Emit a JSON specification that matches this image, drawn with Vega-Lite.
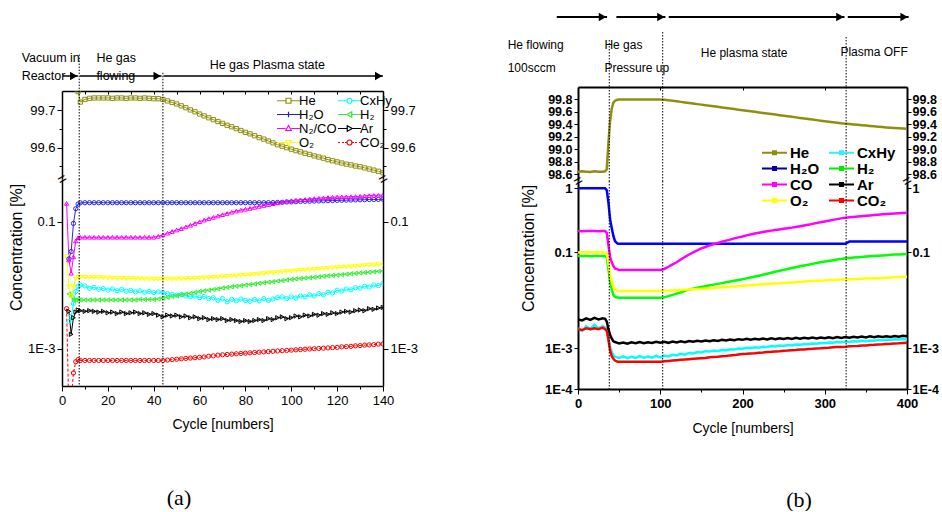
{
"$schema": "https://vega.github.io/schema/vega-lite/v6.json",
"padding": {"left": 8, "top": 0, "right": 0, "bottom": 0},
"config": {
  "view": {"stroke": null},
  "font": "Liberation Sans",
  "axis": {"domainColor": "#000", "tickColor": "#000", "labelColor": "#000", "titleColor": "#000", "grid": false, "labelFont": "Liberation Sans", "titleFont": "Liberation Sans", "titleFontWeight": "normal", "labelFontSize": 13, "domainWidth": 1.5, "tickWidth": 1, "labelOverlap": false},
  "legend": {"padding": 0}
},
"datasets": {
  "a": [
    {"c":2,"N2CO":0.194,"O2":0.028,"CO2":0.0043},
    {"c":3,"H2O":0.026,"N2CO":0.025,"O2":0.0095,"CxHy":0.0027,"H2":0.0073,"Ar":0.0039,"CO2":0.0001},
    {"c":4,"H2O":0.034,"N2CO":0.0155,"O2":0.0066,"CxHy":0.0032,"H2":0.0066,"Ar":0.0017,"CO2":0.00015},
    {"c":5,"H2O":0.094,"N2CO":0.028,"O2":0.0095,"CxHy":0.0052,"H2":0.0059,"Ar":0.0031,"CO2":0.00042},
    {"c":6,"H2O":0.16,"N2CO":0.05,"O2":0.0126,"CxHy":0.008,"H2":0.0059,"Ar":0.0038,"CO2":0.00063},
    {"c":7,"He":99.75,"H2O":0.19,"N2CO":0.056,"O2":0.0134,"CxHy":0.0095,"H2":0.006,"Ar":0.0041,"CO2":0.00068},
    {"c":8,"He":99.722,"H2O":0.198,"N2CO":0.057,"O2":0.0134,"CxHy":0.0101,"H2":0.0059,"Ar":0.004,"CO2":0.00066},
    {"c":10,"He":99.729,"H2O":0.199,"N2CO":0.057,"O2":0.0134,"CxHy":0.0098,"H2":0.0059,"Ar":0.0039,"CO2":0.00066},
    {"c":12,"He":99.732,"H2O":0.199,"N2CO":0.057,"O2":0.0133,"CxHy":0.009,"H2":0.0059,"Ar":0.004,"CO2":0.00066},
    {"c":14,"He":99.733,"H2O":0.199,"N2CO":0.057,"O2":0.0133,"CxHy":0.0093,"H2":0.0059,"Ar":0.0039,"CO2":0.00066},
    {"c":16,"He":99.733,"H2O":0.199,"N2CO":0.057,"O2":0.0132,"CxHy":0.0087,"H2":0.0059,"Ar":0.0038,"CO2":0.00066},
    {"c":18,"He":99.733,"H2O":0.199,"N2CO":0.057,"O2":0.0132,"CxHy":0.0089,"H2":0.0059,"Ar":0.0039,"CO2":0.00066},
    {"c":20,"He":99.733,"H2O":0.199,"N2CO":0.057,"O2":0.0131,"CxHy":0.0084,"H2":0.0059,"Ar":0.0037,"CO2":0.00066},
    {"c":22,"He":99.732,"H2O":0.199,"N2CO":0.057,"O2":0.013,"CxHy":0.0088,"H2":0.0059,"Ar":0.0038,"CO2":0.00066},
    {"c":24,"He":99.733,"H2O":0.199,"N2CO":0.057,"O2":0.013,"CxHy":0.0082,"H2":0.0059,"Ar":0.0036,"CO2":0.00066},
    {"c":26,"He":99.733,"H2O":0.199,"N2CO":0.057,"O2":0.0129,"CxHy":0.0086,"H2":0.0059,"Ar":0.0038,"CO2":0.00066},
    {"c":28,"He":99.732,"H2O":0.199,"N2CO":0.057,"O2":0.0128,"CxHy":0.0081,"H2":0.0059,"Ar":0.0036,"CO2":0.00066},
    {"c":30,"He":99.733,"H2O":0.199,"N2CO":0.057,"O2":0.0128,"CxHy":0.0083,"H2":0.0059,"Ar":0.0037,"CO2":0.00066},
    {"c":32,"He":99.733,"H2O":0.199,"N2CO":0.057,"O2":0.0127,"CxHy":0.0079,"H2":0.0059,"Ar":0.0038,"CO2":0.00066},
    {"c":34,"He":99.732,"H2O":0.199,"N2CO":0.057,"O2":0.0127,"CxHy":0.0082,"H2":0.006,"Ar":0.0036,"CO2":0.00066},
    {"c":36,"He":99.733,"H2O":0.199,"N2CO":0.057,"O2":0.0126,"CxHy":0.0078,"H2":0.006,"Ar":0.0037,"CO2":0.00066},
    {"c":38,"He":99.732,"H2O":0.199,"N2CO":0.057,"O2":0.0126,"CxHy":0.008,"H2":0.006,"Ar":0.0035,"CO2":0.00066},
    {"c":40,"He":99.731,"H2O":0.199,"N2CO":0.057,"O2":0.0125,"CxHy":0.0077,"H2":0.006,"Ar":0.0036,"CO2":0.00066},
    {"c":42,"He":99.731,"H2O":0.199,"N2CO":0.059,"O2":0.0125,"CxHy":0.0079,"H2":0.0061,"Ar":0.0034,"CO2":0.00066},
    {"c":44,"He":99.729,"H2O":0.199,"N2CO":0.062,"O2":0.0125,"CxHy":0.0077,"H2":0.0063,"Ar":0.0032,"CO2":0.00066},
    {"c":46,"He":99.725,"H2O":0.199,"N2CO":0.066,"O2":0.0125,"CxHy":0.0074,"H2":0.0065,"Ar":0.0034,"CO2":0.00067},
    {"c":48,"He":99.721,"H2O":0.199,"N2CO":0.07,"O2":0.0126,"CxHy":0.0072,"H2":0.0067,"Ar":0.0033,"CO2":0.00068},
    {"c":50,"He":99.717,"H2O":0.199,"N2CO":0.074,"O2":0.0126,"CxHy":0.007,"H2":0.0069,"Ar":0.0034,"CO2":0.00069},
    {"c":52,"He":99.712,"H2O":0.199,"N2CO":0.078,"O2":0.0127,"CxHy":0.0072,"H2":0.0071,"Ar":0.0032,"CO2":0.0007},
    {"c":54,"He":99.707,"H2O":0.199,"N2CO":0.083,"O2":0.0127,"CxHy":0.0068,"H2":0.0073,"Ar":0.0033,"CO2":0.00071},
    {"c":56,"He":99.701,"H2O":0.199,"N2CO":0.088,"O2":0.0128,"CxHy":0.0066,"H2":0.0075,"Ar":0.0031,"CO2":0.00072},
    {"c":58,"He":99.696,"H2O":0.199,"N2CO":0.094,"O2":0.0129,"CxHy":0.0068,"H2":0.0078,"Ar":0.0032,"CO2":0.00073},
    {"c":60,"He":99.69,"H2O":0.199,"N2CO":0.1,"O2":0.013,"CxHy":0.0064,"H2":0.008,"Ar":0.003,"CO2":0.00074},
    {"c":62,"He":99.685,"H2O":0.199,"N2CO":0.106,"O2":0.0131,"CxHy":0.0067,"H2":0.0082,"Ar":0.0031,"CO2":0.00075},
    {"c":64,"He":99.68,"H2O":0.199,"N2CO":0.112,"O2":0.0132,"CxHy":0.0062,"H2":0.0084,"Ar":0.0029,"CO2":0.00077},
    {"c":66,"He":99.675,"H2O":0.199,"N2CO":0.117,"O2":0.0134,"CxHy":0.0064,"H2":0.0086,"Ar":0.003,"CO2":0.00078},
    {"c":68,"He":99.67,"H2O":0.199,"N2CO":0.123,"O2":0.0135,"CxHy":0.0058,"H2":0.0088,"Ar":0.0029,"CO2":0.0008},
    {"c":70,"He":99.665,"H2O":0.199,"N2CO":0.129,"O2":0.0137,"CxHy":0.0062,"H2":0.0091,"Ar":0.003,"CO2":0.00081},
    {"c":72,"He":99.66,"H2O":0.199,"N2CO":0.135,"O2":0.0138,"CxHy":0.0055,"H2":0.0093,"Ar":0.0028,"CO2":0.00082},
    {"c":74,"He":99.656,"H2O":0.199,"N2CO":0.141,"O2":0.014,"CxHy":0.006,"H2":0.0095,"Ar":0.0029,"CO2":0.00083},
    {"c":76,"He":99.651,"H2O":0.199,"N2CO":0.147,"O2":0.0141,"CxHy":0.0057,"H2":0.0097,"Ar":0.0028,"CO2":0.00084},
    {"c":78,"He":99.646,"H2O":0.199,"N2CO":0.152,"O2":0.0143,"CxHy":0.0061,"H2":0.0099,"Ar":0.0027,"CO2":0.00085},
    {"c":80,"He":99.641,"H2O":0.199,"N2CO":0.157,"O2":0.0145,"CxHy":0.0058,"H2":0.0101,"Ar":0.0028,"CO2":0.00086},
    {"c":82,"He":99.637,"H2O":0.199,"N2CO":0.162,"O2":0.0147,"CxHy":0.0056,"H2":0.0103,"Ar":0.0027,"CO2":0.00087},
    {"c":84,"He":99.632,"H2O":0.199,"N2CO":0.168,"O2":0.0149,"CxHy":0.006,"H2":0.0105,"Ar":0.0028,"CO2":0.00088},
    {"c":86,"He":99.627,"H2O":0.199,"N2CO":0.174,"O2":0.0151,"CxHy":0.0057,"H2":0.0108,"Ar":0.0029,"CO2":0.00089},
    {"c":88,"He":99.623,"H2O":0.199,"N2CO":0.18,"O2":0.0153,"CxHy":0.0062,"H2":0.011,"Ar":0.0028,"CO2":0.0009},
    {"c":90,"He":99.618,"H2O":0.199,"N2CO":0.186,"O2":0.0156,"CxHy":0.0058,"H2":0.0112,"Ar":0.003,"CO2":0.00091},
    {"c":92,"He":99.613,"H2O":0.2,"N2CO":0.192,"O2":0.0158,"CxHy":0.0061,"H2":0.0114,"Ar":0.0029,"CO2":0.00092},
    {"c":94,"He":99.608,"H2O":0.201,"N2CO":0.198,"O2":0.016,"CxHy":0.0064,"H2":0.0117,"Ar":0.0031,"CO2":0.00093},
    {"c":96,"He":99.604,"H2O":0.202,"N2CO":0.205,"O2":0.0163,"CxHy":0.0066,"H2":0.0119,"Ar":0.0032,"CO2":0.00094},
    {"c":98,"He":99.6,"H2O":0.204,"N2CO":0.21,"O2":0.0165,"CxHy":0.0062,"H2":0.0122,"Ar":0.003,"CO2":0.00095},
    {"c":100,"He":99.596,"H2O":0.205,"N2CO":0.214,"O2":0.0168,"CxHy":0.0066,"H2":0.0124,"Ar":0.0031,"CO2":0.00096},
    {"c":102,"He":99.592,"H2O":0.206,"N2CO":0.218,"O2":0.017,"CxHy":0.0063,"H2":0.0126,"Ar":0.0033,"CO2":0.00097},
    {"c":104,"He":99.589,"H2O":0.208,"N2CO":0.221,"O2":0.0172,"CxHy":0.0068,"H2":0.0128,"Ar":0.0032,"CO2":0.00098},
    {"c":106,"He":99.585,"H2O":0.209,"N2CO":0.224,"O2":0.0174,"CxHy":0.0066,"H2":0.013,"Ar":0.0034,"CO2":0.00099},
    {"c":108,"He":99.582,"H2O":0.21,"N2CO":0.228,"O2":0.0177,"CxHy":0.0071,"H2":0.0132,"Ar":0.0033,"CO2":0.001},
    {"c":110,"He":99.578,"H2O":0.211,"N2CO":0.231,"O2":0.0179,"CxHy":0.0068,"H2":0.0134,"Ar":0.0035,"CO2":0.00101},
    {"c":112,"He":99.575,"H2O":0.212,"N2CO":0.234,"O2":0.0181,"CxHy":0.0074,"H2":0.0136,"Ar":0.0034,"CO2":0.00102},
    {"c":114,"He":99.572,"H2O":0.213,"N2CO":0.237,"O2":0.0183,"CxHy":0.0071,"H2":0.0139,"Ar":0.0036,"CO2":0.00103},
    {"c":116,"He":99.568,"H2O":0.214,"N2CO":0.24,"O2":0.0186,"CxHy":0.0078,"H2":0.0141,"Ar":0.0035,"CO2":0.00104},
    {"c":118,"He":99.565,"H2O":0.215,"N2CO":0.242,"O2":0.0188,"CxHy":0.0076,"H2":0.0143,"Ar":0.0037,"CO2":0.00105},
    {"c":120,"He":99.562,"H2O":0.216,"N2CO":0.244,"O2":0.019,"CxHy":0.0084,"H2":0.0145,"Ar":0.0036,"CO2":0.00106},
    {"c":122,"He":99.559,"H2O":0.217,"N2CO":0.245,"O2":0.0192,"CxHy":0.0081,"H2":0.0147,"Ar":0.0038,"CO2":0.00108},
    {"c":124,"He":99.556,"H2O":0.218,"N2CO":0.246,"O2":0.0195,"CxHy":0.0088,"H2":0.015,"Ar":0.0039,"CO2":0.00109},
    {"c":126,"He":99.554,"H2O":0.219,"N2CO":0.247,"O2":0.0197,"CxHy":0.0085,"H2":0.0152,"Ar":0.0038,"CO2":0.0011},
    {"c":128,"He":99.551,"H2O":0.22,"N2CO":0.249,"O2":0.02,"CxHy":0.0092,"H2":0.0154,"Ar":0.004,"CO2":0.00112},
    {"c":130,"He":99.549,"H2O":0.221,"N2CO":0.251,"O2":0.0202,"CxHy":0.009,"H2":0.0157,"Ar":0.0041,"CO2":0.00113},
    {"c":132,"He":99.546,"H2O":0.222,"N2CO":0.254,"O2":0.0204,"CxHy":0.0097,"H2":0.0159,"Ar":0.004,"CO2":0.00115},
    {"c":134,"He":99.543,"H2O":0.223,"N2CO":0.257,"O2":0.0207,"CxHy":0.0094,"H2":0.0161,"Ar":0.0043,"CO2":0.00116},
    {"c":136,"He":99.54,"H2O":0.223,"N2CO":0.259,"O2":0.0209,"CxHy":0.0101,"H2":0.0163,"Ar":0.0042,"CO2":0.00117},
    {"c":138,"He":99.537,"H2O":0.224,"N2CO":0.261,"O2":0.0212,"CxHy":0.0099,"H2":0.0166,"Ar":0.0044,"CO2":0.00119},
    {"c":140,"He":99.533,"H2O":0.225,"N2CO":0.263,"O2":0.0214,"CxHy":0.0108,"H2":0.0168,"Ar":0.0045,"CO2":0.0012}
  ],
  "b": [
    {"c":0,"He":98.64,"H2O":1.0,"CO":0.215,"O2":0.099,"CxHy":0.0026,"H2":0.084,"Ar":0.004,"CO2":0.0025},
    {"c":5,"He":98.645,"H2O":1.0,"CO":0.214,"O2":0.1,"CxHy":0.0023,"H2":0.084,"Ar":0.0038,"CO2":0.0024},
    {"c":10,"He":98.64,"H2O":1.0,"CO":0.215,"O2":0.1,"CxHy":0.0029,"H2":0.084,"Ar":0.0042,"CO2":0.0026},
    {"c":15,"He":98.635,"H2O":1.0,"CO":0.216,"O2":0.1,"CxHy":0.0025,"H2":0.083,"Ar":0.0039,"CO2":0.0025},
    {"c":20,"He":98.645,"H2O":1.0,"CO":0.215,"O2":0.099,"CxHy":0.0031,"H2":0.084,"Ar":0.0043,"CO2":0.0026},
    {"c":25,"He":98.64,"H2O":1.0,"CO":0.214,"O2":0.1,"CxHy":0.0026,"H2":0.084,"Ar":0.004,"CO2":0.0025},
    {"c":30,"He":98.64,"H2O":1.0,"CO":0.215,"O2":0.1,"CxHy":0.0029,"H2":0.084,"Ar":0.0042,"CO2":0.0027},
    {"c":33,"He":98.645,"H2O":1.0,"CO":0.215,"O2":0.099,"CxHy":0.0027,"H2":0.083,"Ar":0.0041,"CO2":0.0025},
    {"c":35,"He":98.68,"H2O":0.93,"CO":0.2,"O2":0.093,"CxHy":0.0025,"H2":0.078,"Ar":0.0036,"CO2":0.0023},
    {"c":37,"He":99.1,"H2O":0.6,"CO":0.13,"O2":0.06,"CxHy":0.0017,"H2":0.045,"Ar":0.0025,"CO2":0.0015},
    {"c":39,"He":99.45,"H2O":0.33,"CO":0.08,"O2":0.035,"CxHy":0.0011,"H2":0.025,"Ar":0.0019,"CO2":0.0009},
    {"c":41,"He":99.65,"H2O":0.24,"CO":0.062,"O2":0.025,"CxHy":0.0008,"H2":0.017,"Ar":0.0016,"CO2":0.00065},
    {"c":43,"He":99.75,"H2O":0.18,"CO":0.052,"O2":0.019,"CxHy":0.00068,"H2":0.013,"Ar":0.0014,"CO2":0.00055},
    {"c":45,"He":99.78,"H2O":0.15,"CO":0.046,"O2":0.0165,"CxHy":0.00062,"H2":0.0118,"Ar":0.00135,"CO2":0.0005},
    {"c":48,"He":99.795,"H2O":0.137,"CO":0.044,"O2":0.0158,"CxHy":0.0006,"H2":0.0114,"Ar":0.0013,"CO2":0.00047},
    {"c":50,"He":99.8,"H2O":0.136,"CO":0.043,"O2":0.0157,"CxHy":0.00058,"H2":0.0113,"Ar":0.00126,"CO2":0.00047},
    {"c":55,"He":99.8,"H2O":0.136,"CO":0.043,"O2":0.0157,"CxHy":0.00063,"H2":0.0113,"Ar":0.00132,"CO2":0.00047},
    {"c":60,"He":99.8,"H2O":0.136,"CO":0.043,"O2":0.0157,"CxHy":0.00057,"H2":0.0113,"Ar":0.00125,"CO2":0.00047},
    {"c":65,"He":99.8,"H2O":0.136,"CO":0.043,"O2":0.0157,"CxHy":0.00062,"H2":0.0113,"Ar":0.00133,"CO2":0.00047},
    {"c":70,"He":99.8,"H2O":0.136,"CO":0.043,"O2":0.0157,"CxHy":0.00058,"H2":0.0113,"Ar":0.00128,"CO2":0.00047},
    {"c":75,"He":99.8,"H2O":0.136,"CO":0.043,"O2":0.0157,"CxHy":0.00064,"H2":0.0113,"Ar":0.00135,"CO2":0.00047},
    {"c":80,"He":99.8,"H2O":0.136,"CO":0.043,"O2":0.0157,"CxHy":0.00059,"H2":0.0113,"Ar":0.00127,"CO2":0.00047},
    {"c":85,"He":99.8,"H2O":0.136,"CO":0.043,"O2":0.0157,"CxHy":0.00063,"H2":0.0113,"Ar":0.00134,"CO2":0.00047},
    {"c":90,"He":99.8,"H2O":0.136,"CO":0.043,"O2":0.0157,"CxHy":0.00059,"H2":0.0113,"Ar":0.00129,"CO2":0.00047},
    {"c":95,"He":99.8,"H2O":0.136,"CO":0.043,"O2":0.0157,"CxHy":0.00065,"H2":0.0113,"Ar":0.00136,"CO2":0.00047},
    {"c":100,"He":99.8,"H2O":0.136,"CO":0.043,"O2":0.0157,"CxHy":0.0006,"H2":0.0113,"Ar":0.0013,"CO2":0.00047},
    {"c":105,"He":99.796,"H2O":0.136,"CO":0.045,"O2":0.0158,"CxHy":0.00066,"H2":0.0116,"Ar":0.00137,"CO2":0.00048},
    {"c":110,"He":99.788,"H2O":0.136,"CO":0.05,"O2":0.0159,"CxHy":0.00063,"H2":0.0122,"Ar":0.0013,"CO2":0.00049},
    {"c":115,"He":99.779,"H2O":0.136,"CO":0.056,"O2":0.016,"CxHy":0.00069,"H2":0.013,"Ar":0.00138,"CO2":0.0005},
    {"c":120,"He":99.77,"H2O":0.136,"CO":0.062,"O2":0.0162,"CxHy":0.00067,"H2":0.0138,"Ar":0.00133,"CO2":0.00051},
    {"c":125,"He":99.761,"H2O":0.136,"CO":0.071,"O2":0.0164,"CxHy":0.00073,"H2":0.0147,"Ar":0.0014,"CO2":0.00052},
    {"c":130,"He":99.752,"H2O":0.136,"CO":0.08,"O2":0.0166,"CxHy":0.0007,"H2":0.0158,"Ar":0.00134,"CO2":0.00053},
    {"c":135,"He":99.743,"H2O":0.136,"CO":0.09,"O2":0.0168,"CxHy":0.00077,"H2":0.0167,"Ar":0.00142,"CO2":0.00054},
    {"c":140,"He":99.734,"H2O":0.136,"CO":0.1,"O2":0.017,"CxHy":0.00075,"H2":0.0175,"Ar":0.00137,"CO2":0.00055},
    {"c":145,"He":99.725,"H2O":0.136,"CO":0.107,"O2":0.0172,"CxHy":0.00081,"H2":0.0182,"Ar":0.00143,"CO2":0.00056},
    {"c":150,"He":99.717,"H2O":0.136,"CO":0.115,"O2":0.0174,"CxHy":0.00079,"H2":0.019,"Ar":0.00138,"CO2":0.00057},
    {"c":155,"He":99.708,"H2O":0.136,"CO":0.121,"O2":0.0177,"CxHy":0.00085,"H2":0.0197,"Ar":0.00145,"CO2":0.00058},
    {"c":160,"He":99.699,"H2O":0.136,"CO":0.128,"O2":0.0179,"CxHy":0.00083,"H2":0.0205,"Ar":0.0014,"CO2":0.0006},
    {"c":165,"He":99.69,"H2O":0.136,"CO":0.134,"O2":0.0181,"CxHy":0.00088,"H2":0.0212,"Ar":0.00147,"CO2":0.00061},
    {"c":170,"He":99.681,"H2O":0.136,"CO":0.14,"O2":0.0184,"CxHy":0.00086,"H2":0.022,"Ar":0.00142,"CO2":0.00062},
    {"c":175,"He":99.672,"H2O":0.136,"CO":0.146,"O2":0.0186,"CxHy":0.00091,"H2":0.0228,"Ar":0.0015,"CO2":0.00064},
    {"c":180,"He":99.663,"H2O":0.136,"CO":0.152,"O2":0.0189,"CxHy":0.00089,"H2":0.0237,"Ar":0.00145,"CO2":0.00065},
    {"c":185,"He":99.654,"H2O":0.136,"CO":0.158,"O2":0.0191,"CxHy":0.00095,"H2":0.0246,"Ar":0.00152,"CO2":0.00067},
    {"c":190,"He":99.645,"H2O":0.136,"CO":0.165,"O2":0.0194,"CxHy":0.00093,"H2":0.0255,"Ar":0.00147,"CO2":0.00068},
    {"c":195,"He":99.636,"H2O":0.136,"CO":0.171,"O2":0.0197,"CxHy":0.00099,"H2":0.0264,"Ar":0.00155,"CO2":0.0007},
    {"c":200,"He":99.628,"H2O":0.136,"CO":0.177,"O2":0.02,"CxHy":0.00097,"H2":0.0274,"Ar":0.0015,"CO2":0.00072},
    {"c":205,"He":99.619,"H2O":0.136,"CO":0.184,"O2":0.0203,"CxHy":0.00102,"H2":0.0286,"Ar":0.00157,"CO2":0.00073},
    {"c":210,"He":99.61,"H2O":0.136,"CO":0.19,"O2":0.0206,"CxHy":0.001,"H2":0.0299,"Ar":0.00151,"CO2":0.00075},
    {"c":215,"He":99.601,"H2O":0.136,"CO":0.196,"O2":0.0209,"CxHy":0.00105,"H2":0.0312,"Ar":0.00158,"CO2":0.00076},
    {"c":220,"He":99.592,"H2O":0.136,"CO":0.202,"O2":0.0212,"CxHy":0.00103,"H2":0.0325,"Ar":0.00152,"CO2":0.00078},
    {"c":225,"He":99.583,"H2O":0.136,"CO":0.208,"O2":0.0215,"CxHy":0.00108,"H2":0.034,"Ar":0.0016,"CO2":0.00079},
    {"c":230,"He":99.574,"H2O":0.136,"CO":0.213,"O2":0.0218,"CxHy":0.00106,"H2":0.0357,"Ar":0.00153,"CO2":0.00081},
    {"c":235,"He":99.565,"H2O":0.136,"CO":0.218,"O2":0.0221,"CxHy":0.00111,"H2":0.0375,"Ar":0.00161,"CO2":0.00082},
    {"c":240,"He":99.557,"H2O":0.136,"CO":0.223,"O2":0.0224,"CxHy":0.00109,"H2":0.0392,"Ar":0.00155,"CO2":0.00084},
    {"c":245,"He":99.548,"H2O":0.136,"CO":0.228,"O2":0.0227,"CxHy":0.00114,"H2":0.0411,"Ar":0.00162,"CO2":0.00085},
    {"c":250,"He":99.539,"H2O":0.136,"CO":0.233,"O2":0.023,"CxHy":0.00112,"H2":0.043,"Ar":0.00156,"CO2":0.00087},
    {"c":255,"He":99.53,"H2O":0.136,"CO":0.238,"O2":0.0233,"CxHy":0.00117,"H2":0.045,"Ar":0.00163,"CO2":0.00088},
    {"c":260,"He":99.521,"H2O":0.136,"CO":0.243,"O2":0.0236,"CxHy":0.00115,"H2":0.047,"Ar":0.00157,"CO2":0.0009},
    {"c":265,"He":99.512,"H2O":0.136,"CO":0.249,"O2":0.0239,"CxHy":0.0012,"H2":0.049,"Ar":0.00165,"CO2":0.00091},
    {"c":270,"He":99.503,"H2O":0.136,"CO":0.256,"O2":0.0242,"CxHy":0.00118,"H2":0.051,"Ar":0.00158,"CO2":0.00093},
    {"c":275,"He":99.494,"H2O":0.136,"CO":0.263,"O2":0.0245,"CxHy":0.00123,"H2":0.053,"Ar":0.00166,"CO2":0.00094},
    {"c":280,"He":99.486,"H2O":0.136,"CO":0.27,"O2":0.0248,"CxHy":0.00121,"H2":0.0552,"Ar":0.0016,"CO2":0.00096},
    {"c":285,"He":99.477,"H2O":0.136,"CO":0.278,"O2":0.0251,"CxHy":0.00126,"H2":0.0574,"Ar":0.00167,"CO2":0.00097},
    {"c":290,"He":99.468,"H2O":0.136,"CO":0.286,"O2":0.0254,"CxHy":0.00124,"H2":0.0596,"Ar":0.00161,"CO2":0.00099},
    {"c":295,"He":99.459,"H2O":0.136,"CO":0.294,"O2":0.0257,"CxHy":0.00129,"H2":0.0618,"Ar":0.00168,"CO2":0.001},
    {"c":300,"He":99.45,"H2O":0.136,"CO":0.303,"O2":0.026,"CxHy":0.00127,"H2":0.064,"Ar":0.00162,"CO2":0.00102},
    {"c":305,"He":99.441,"H2O":0.136,"CO":0.312,"O2":0.0263,"CxHy":0.00132,"H2":0.0662,"Ar":0.0017,"CO2":0.00103},
    {"c":310,"He":99.432,"H2O":0.136,"CO":0.321,"O2":0.0266,"CxHy":0.0013,"H2":0.0684,"Ar":0.00163,"CO2":0.00105},
    {"c":315,"He":99.424,"H2O":0.136,"CO":0.33,"O2":0.0268,"CxHy":0.00135,"H2":0.0706,"Ar":0.00171,"CO2":0.00106},
    {"c":320,"He":99.416,"H2O":0.136,"CO":0.339,"O2":0.027,"CxHy":0.00133,"H2":0.0728,"Ar":0.00165,"CO2":0.00107},
    {"c":325,"He":99.41,"H2O":0.136,"CO":0.347,"O2":0.0272,"CxHy":0.00138,"H2":0.075,"Ar":0.00172,"CO2":0.00108},
    {"c":330,"He":99.404,"H2O":0.147,"CO":0.352,"O2":0.0274,"CxHy":0.00136,"H2":0.0765,"Ar":0.00166,"CO2":0.0011},
    {"c":335,"He":99.398,"H2O":0.147,"CO":0.357,"O2":0.0276,"CxHy":0.0014,"H2":0.0778,"Ar":0.00174,"CO2":0.00111},
    {"c":340,"He":99.392,"H2O":0.147,"CO":0.362,"O2":0.0278,"CxHy":0.00138,"H2":0.079,"Ar":0.00168,"CO2":0.00112},
    {"c":345,"He":99.386,"H2O":0.147,"CO":0.367,"O2":0.028,"CxHy":0.00143,"H2":0.0802,"Ar":0.00175,"CO2":0.00114},
    {"c":350,"He":99.38,"H2O":0.147,"CO":0.372,"O2":0.0283,"CxHy":0.00141,"H2":0.0814,"Ar":0.00169,"CO2":0.00115},
    {"c":355,"He":99.374,"H2O":0.147,"CO":0.377,"O2":0.0285,"CxHy":0.00146,"H2":0.0826,"Ar":0.00177,"CO2":0.00117},
    {"c":360,"He":99.368,"H2O":0.147,"CO":0.382,"O2":0.0287,"CxHy":0.00144,"H2":0.0838,"Ar":0.0017,"CO2":0.00118},
    {"c":365,"He":99.362,"H2O":0.147,"CO":0.387,"O2":0.0289,"CxHy":0.00149,"H2":0.085,"Ar":0.00178,"CO2":0.0012},
    {"c":370,"He":99.356,"H2O":0.147,"CO":0.392,"O2":0.0292,"CxHy":0.00147,"H2":0.0862,"Ar":0.00172,"CO2":0.00121},
    {"c":375,"He":99.351,"H2O":0.147,"CO":0.396,"O2":0.0294,"CxHy":0.00152,"H2":0.0873,"Ar":0.00179,"CO2":0.00123},
    {"c":380,"He":99.346,"H2O":0.148,"CO":0.4,"O2":0.0297,"CxHy":0.0015,"H2":0.0884,"Ar":0.00173,"CO2":0.00124},
    {"c":385,"He":99.341,"H2O":0.148,"CO":0.404,"O2":0.0301,"CxHy":0.00155,"H2":0.0895,"Ar":0.00181,"CO2":0.00126},
    {"c":390,"He":99.337,"H2O":0.148,"CO":0.408,"O2":0.0304,"CxHy":0.00153,"H2":0.0905,"Ar":0.00175,"CO2":0.00127},
    {"c":395,"He":99.333,"H2O":0.148,"CO":0.412,"O2":0.0307,"CxHy":0.00157,"H2":0.0913,"Ar":0.00182,"CO2":0.00129},
    {"c":400,"He":99.33,"H2O":0.148,"CO":0.416,"O2":0.031,"CxHy":0.00154,"H2":0.092,"Ar":0.00178,"CO2":0.0013}
  ],
  "vlA": [{"c":7.5,"top":0.4},{"c":44,"top":0.2}],
  "arrA": [{"c":0.3,"c2":7,"lv":0.165},{"c":7.8,"c2":43.4,"lv":0.165},{"c":44.3,"c2":140,"lv":0.165}],
  "headA": [{"c":5.1,"lv":0.165},{"c":41.5,"lv":0.165},{"c":138.1,"lv":0.165}],
  "txtA": [{"c":-17.6,"lv":0.363,"t":"Vacuum in"},{"c":-17.6,"lv":0.165,"t":"Reactor"},{"c":15,"lv":0.363,"t":"He gas"},{"c":15,"lv":0.165,"t":"flowing"},{"c":64.4,"lv":0.286,"t":"He gas Plasma state"}],
  "brkA": [{"c":0},{"c":140}],
  "legA": [{"c":70,"s":"He"}],
  "vlB": [{"c":38,"top":0.54},{"c":103,"top":0.632},{"c":326,"top":0.575}],
  "arrB": [{"c":-25.8,"c2":35.3,"lv":0.805},{"c":46.7,"c2":106.3,"lv":0.805},{"c":110.3,"c2":324,"lv":0.805},{"c":328,"c2":402,"lv":0.805}],
  "headB": [{"c":29.8,"lv":0.805},{"c":100.8,"lv":0.805},{"c":318.5,"lv":0.805},{"c":396.5,"lv":0.805}],
  "txtB": [{"c":-85.5,"lv":0.483,"t":"He flowing"},{"c":-85.5,"lv":0.218,"t":"100sccm"},{"c":32.1,"lv":0.483,"t":"He gas"},{"c":32.1,"lv":0.218,"t":"Pressure up"},{"c":149.2,"lv":0.391,"t":"He plasma state"},{"c":319,"lv":0.402,"t":"Plasma OFF"}],
  "brkB": [{"c":0},{"c":400}],
  "legB": [{"c":200,"s":"He"}]
},
"spacing": 89,
"resolve": {"scale": {"x": "independent", "y": "independent", "color": "independent", "shape": "independent"}},
"hconcat": [
  {
    "bounds": "flush",
    "spacing": 0,
    "title": {"text": "(a)", "orient": "bottom", "anchor": "middle", "font": "Liberation Serif", "fontSize": 22, "fontWeight": "normal", "offset": 57, "dx": -34, "color": "#000"},
    "resolve": {"scale": {"x": "independent", "y": "independent", "color": "independent", "shape": "independent"}},
    "vconcat": [
      {
        "width": 321, "height": 91,
        "encoding": {"x": {"field": "c", "type": "quantitative", "scale": {"domain": [0, 140], "nice": false, "zero": false}, "axis": null}},
        "layer": [
          {"data": {"name": "vlA"}, "mark": {"type": "rule", "strokeDash": [1.5, 1.5], "color": "#000", "strokeWidth": 1},
           "encoding": {"y": {"field": "top", "type": "quantitative", "scale": {"domain": [0, 1]}, "axis": null}, "y2": {"datum": 0}}},
          {"data": {"name": "arrA"}, "mark": {"type": "rule", "color": "#000", "strokeWidth": 1.5},
           "encoding": {"x2": {"field": "c2"}, "y": {"field": "lv", "type": "quantitative", "scale": {"domain": [0, 1]}, "axis": null}}},
          {"data": {"name": "headA"}, "mark": {"type": "point", "shape": "triangle-right", "filled": true, "color": "#000", "size": 70, "opacity": 1},
           "encoding": {"y": {"field": "lv", "type": "quantitative", "scale": {"domain": [0, 1]}, "axis": null}}},
          {"data": {"name": "txtA"}, "mark": {"type": "text", "align": "left", "baseline": "middle", "font": "Liberation Sans", "fontSize": 12.5, "color": "#000"},
           "encoding": {"y": {"field": "lv", "type": "quantitative", "scale": {"domain": [0, 1]}, "axis": null}, "text": {"field": "t"}}}
        ]
      },
      {
        "width": 321, "height": 88,
        "data": {"name": "a"},
        "transform": [{"filter": "datum.He != null"}],
        "encoding": {"x": {"field": "c", "type": "quantitative", "scale": {"domain": [0, 140], "nice": false, "zero": false},
          "axis": {"orient": "top", "labels": false, "title": null, "values": [0,10,20,30,40,50,60,70,80,90,100,110,120,130,140], "tickSize": -3}}},
        "layer": [
          {"mark": {"type": "line", "color": "#8f8f0f", "strokeWidth": 1, "clip": true},
           "encoding": {"y": {"field": "He", "type": "quantitative", "scale": {"domain": [99.5163, 99.7516], "nice": false, "zero": false},
             "axis": {"orient": "left", "title": null, "values": [99.55, 99.6, 99.65, 99.7], "labelExpr": "abs(datum.value*10 - round(datum.value*10)) < 0.001 ? format(datum.value, '.1f') : ''",
               "tickSize": {"condition": {"test": "abs(datum.value*10 - round(datum.value*10)) < 0.001", "value": 5}, "value": 3}, "labelPadding": 2}}}},
          {"mark": {"type": "point", "shape": "square", "filled": false, "color": "#8f8f0f", "size": 18, "strokeWidth": 1, "opacity": 1, "clip": true},
           "encoding": {"y": {"field": "He", "type": "quantitative",
             "axis": {"orient": "right", "title": null, "values": [99.55, 99.6, 99.65, 99.7], "labelExpr": "abs(datum.value*10 - round(datum.value*10)) < 0.001 ? format(datum.value, '.1f') : ''",
               "tickSize": {"condition": {"test": "abs(datum.value*10 - round(datum.value*10)) < 0.001", "value": 5}, "value": 3}, "labelPadding": 2}}}},
          {"data": {"name": "legA"}, "mark": {"type": "point", "filled": false, "strokeWidth": 1.2, "clip": true, "opacity": 1},
           "encoding": {
             "y": {"datum": 99.45, "type": "quantitative", "axis": null},
             "color": {"field": "s", "type": "nominal",
               "scale": {"domain": ["He","H2O","N2CO","O2","CxHy","H2","Ar","CO2"], "range": ["#8f8f0f","#2222cc","#ff00ff","#ffff00","#00ffff","#33ee33","#000000","#ff0000"]},
               "legend": {"orient": "none", "legendX": 220, "legendY": 3, "columns": 2, "title": null, "labelFontSize": 13, "labelFont": "Liberation Sans", "labelColor": "#000", "symbolSize": 100, "symbolStrokeWidth": 1.2, "symbolOpacity": 1, "labelOffset": 4, "rowPadding": 0, "columnPadding": -2,
                 "labelExpr": "{'He':'He','CxHy':'CxHy','H2O':'H₂O','H2':'H₂','N2CO':'N₂/CO','Ar':'Ar','O2':'O₂','CO2':'CO₂'}[datum.label]"}},
             "shape": {"field": "s", "type": "nominal",
               "scale": {"domain": ["He","H2O","N2CO","O2","CxHy","H2","Ar","CO2"],
                 "range": ["M-2.3,0H-0.5M0.5,0H2.3M-0.5,-0.5H0.5V0.5H-0.5Z",
                           "M-2.3,0H2.3M0,-0.55V0.55",
                           "M-2.3,0H-0.55M0.55,0H2.3M0,-0.6L0.55,0.4H-0.55Z",
                           "M-2.3,0H-0.55M0.55,0H2.3M0,0.6L0.55,-0.4H-0.55Z",
                           "M-2.3,0H-0.5M0.5,0H2.3M-0.5,0A0.5,0.5,0,1,0,0.5,0A0.5,0.5,0,1,0,-0.5,0Z",
                           "M-2.3,0H-0.55M0.45,0H2.3M-0.55,0L0.45,-0.55V0.55Z",
                           "M-2.3,0H-0.45M0.55,0H2.3M0.55,0L-0.45,-0.55V0.55Z",
                           "M-2.3,0H-1.9M-1.5,0H-1.1M-0.9,0H-0.5M0.5,0H0.9M1.1,0H1.5M1.9,0H2.3M-0.5,0A0.5,0.5,0,1,0,0.5,0A0.5,0.5,0,1,0,-0.5,0Z"]},
               "legend": {"orient": "none", "legendX": 220, "legendY": 3, "columns": 2, "title": null, "labelFontSize": 13, "labelFont": "Liberation Sans", "labelColor": "#000", "symbolSize": 100, "symbolStrokeWidth": 1.2, "symbolOpacity": 1, "labelOffset": 4, "rowPadding": 0, "columnPadding": -2,
                 "labelExpr": "{'He':'He','CxHy':'CxHy','H2O':'H₂O','H2':'H₂','N2CO':'N₂/CO','Ar':'Ar','O2':'O₂','CO2':'CO₂'}[datum.label]"}}}},
          {"data": {"name": "vlA"}, "mark": {"type": "rule", "strokeDash": [1.5, 1.5], "color": "#000", "strokeWidth": 1}},
          {"data": {"name": "brkA"}, "mark": {"type": "text", "text": "=", "angle": -30, "fontSize": 15, "color": "#000", "baseline": "middle", "align": "center"},
           "encoding": {"y": {"datum": 99.5163, "type": "quantitative", "axis": null}}}
        ],
        "resolve": {"axis": {"y": "independent"}}
      },
      {
        "width": 321, "height": 207,
        "data": {"name": "a"},
        "transform": [{"fold": ["CxHy","H2O","H2","N2CO","Ar","O2","CO2"], "as": ["s", "v"]}, {"filter": "datum.v != null"}],
        "encoding": {
          "x": {"field": "c", "type": "quantitative", "scale": {"domain": [0, 140], "nice": false, "zero": false},
            "axis": {"orient": "bottom", "title": "Cycle [numbers]", "titleFontSize": 14, "titlePadding": 10, "values": [0,10,20,30,40,50,60,70,80,90,100,110,120,130,140],
              "labelExpr": "datum.value % 20 == 0 ? datum.label : ''", "labelPadding": 3, "labelFlush": false,
              "tickSize": {"condition": {"test": "datum.value % 20 == 0", "value": 5}, "value": 3}}},
          "color": {"field": "s", "type": "nominal", "legend": null,
            "scale": {"domain": ["He","CxHy","H2O","H2","N2CO","Ar","O2","CO2"], "range": ["#8f8f0f","#00ffff","#2a2ae0","#33ee33","#ff00ff","#000000","#ffff00","#ff0000"]}}
        },
        "layer": [
          {"transform": [{"filter": "datum.s != 'CO2'"}], "mark": {"type": "line", "strokeWidth": 1, "clip": true},
           "encoding": {"y": {"field": "v", "type": "quantitative", "scale": {"type": "log", "domain": [0.000262, 0.469], "nice": false},
             "axis": {"orient": "left", "values": [0.001, 0.1], "labelExpr": "datum.value > 0.01 ? '0.1' : '1E-3'", "tickSize": 5, "labelPadding": 2,
               "title": "Concentration [%]", "titleFontSize": 16, "titleY": 68, "titlePadding": 3}}}},
          {"transform": [{"filter": "datum.s == 'CO2'"}], "mark": {"type": "line", "strokeWidth": 1, "strokeDash": [3, 2], "clip": true},
           "encoding": {"y": {"field": "v", "type": "quantitative", "axis": null}}},
          {"mark": {"type": "point", "filled": false, "size": 18, "strokeWidth": 1, "opacity": 1, "clip": true},
           "encoding": {"y": {"field": "v", "type": "quantitative",
             "axis": {"orient": "right", "values": [0.001, 0.1], "labelExpr": "datum.value > 0.01 ? '0.1' : '1E-3'", "tickSize": 5, "labelPadding": 2, "title": null}},
             "shape": {"field": "s", "type": "nominal", "legend": null,
               "scale": {"domain": ["CxHy","H2O","H2","N2CO","Ar","O2","CO2"], "range": ["circle","circle","triangle-left","triangle-up","triangle-right","triangle-down","circle"]}}}},
          {"data": {"name": "vlA"}, "mark": {"type": "rule", "strokeDash": [1.5, 1.5], "strokeWidth": 1},
           "encoding": {"color": {"value": "#000"}}}
        ],
        "resolve": {"axis": {"y": "independent"}}
      }
    ]
  },
  {
    "bounds": "flush",
    "spacing": 0,
    "title": {"text": "(b)", "orient": "bottom", "anchor": "middle", "font": "Liberation Serif", "fontSize": 22, "fontWeight": "normal", "offset": 55, "dx": 76, "color": "#000"},
    "resolve": {"scale": {"x": "independent", "y": "independent", "color": "independent", "shape": "independent"}},
    "vconcat": [
      {
        "width": 329, "height": 87,
        "encoding": {"x": {"field": "c", "type": "quantitative", "scale": {"domain": [0, 400], "nice": false, "zero": false}, "axis": null}},
        "layer": [
          {"data": {"name": "vlB"}, "mark": {"type": "rule", "strokeDash": [1.5, 1.5], "color": "#000", "strokeWidth": 1},
           "encoding": {"y": {"field": "top", "type": "quantitative", "scale": {"domain": [0, 1]}, "axis": null}, "y2": {"datum": 0}}},
          {"data": {"name": "arrB"}, "mark": {"type": "rule", "color": "#000", "strokeWidth": 2},
           "encoding": {"x2": {"field": "c2"}, "y": {"field": "lv", "type": "quantitative", "scale": {"domain": [0, 1]}, "axis": null}}},
          {"data": {"name": "headB"}, "mark": {"type": "point", "shape": "triangle-right", "filled": true, "color": "#000", "size": 75, "opacity": 1},
           "encoding": {"y": {"field": "lv", "type": "quantitative", "scale": {"domain": [0, 1]}, "axis": null}}},
          {"data": {"name": "txtB"}, "mark": {"type": "text", "align": "left", "baseline": "middle", "font": "Liberation Sans", "fontSize": 12, "color": "#000"},
           "encoding": {"y": {"field": "lv", "type": "quantitative", "scale": {"domain": [0, 1]}, "axis": null}, "text": {"field": "t"}}}
        ]
      },
      {
        "width": 329, "height": 94,
        "data": {"name": "b"},
        "encoding": {"x": {"field": "c", "type": "quantitative", "scale": {"domain": [0, 400], "nice": false, "zero": false},
          "axis": {"orient": "top", "labels": false, "title": null, "values": [0,100,200,300,400], "tickSize": -3, "domainWidth": 2}}},
        "layer": [
          {"mark": {"type": "line", "color": "#8f8f0f", "strokeWidth": 2.5, "clip": true},
           "encoding": {"y": {"field": "He", "type": "quantitative", "scale": {"domain": [98.49, 100.0], "nice": false, "zero": false},
             "axis": {"orient": "left", "title": null, "values": [98.6, 98.8, 99, 99.2, 99.4, 99.6, 99.8], "format": ".1f", "labelFontWeight": "bold", "labelFontSize": 12.5, "tickSize": 4, "labelPadding": 2, "domainWidth": 2}}}},
          {"mark": {"type": "line", "color": "#8f8f0f", "strokeWidth": 2.5, "opacity": 0, "clip": true},
           "encoding": {"y": {"field": "He", "type": "quantitative",
             "axis": {"orient": "right", "title": null, "values": [98.6, 98.8, 99, 99.2, 99.4, 99.6, 99.8], "format": ".1f", "labelFontWeight": "bold", "labelFontSize": 12.5, "tickSize": 4, "labelPadding": 1, "domainWidth": 2}}}},
          {"data": {"name": "legB"}, "mark": {"type": "point", "filled": false, "strokeWidth": 2, "clip": true, "opacity": 1, "shape": "M-2.5,0H2.5M-0.3,-0.3H0.3V0.3H-0.3Z"},
           "encoding": {
             "y": {"datum": 98.2, "type": "quantitative", "axis": null},
             "color": {"field": "s", "type": "nominal",
               "scale": {"domain": ["He","H2O","CO","O2","CxHy","H2","Ar","CO2"], "range": ["#8f8f0f","#0000a0","#ff00ff","#ffff00","#33eeff","#00ee00","#000000","#ff0000"]},
               "legend": {"orient": "none", "legendX": 189, "legendY": 58, "columns": 2, "title": null, "labelFontSize": 15, "labelFontWeight": "bold", "labelFont": "Liberation Sans", "labelColor": "#000", "symbolSize": 100, "symbolStrokeWidth": 2, "symbolOpacity": 1, "labelOffset": 8, "rowPadding": 0, "columnPadding": 5,
                 "labelExpr": "{'He':'He','CxHy':'CxHy','H2O':'H₂O','H2':'H₂','CO':'CO','Ar':'Ar','O2':'O₂','CO2':'CO₂'}[datum.label]"}}}},
          {"data": {"name": "vlB"}, "mark": {"type": "rule", "strokeDash": [1.5, 1.5], "color": "#000", "strokeWidth": 1}},
          {"data": {"name": "brkB"}, "mark": {"type": "text", "text": "=", "angle": -30, "fontSize": 15, "color": "#000", "baseline": "middle", "align": "center"},
           "encoding": {"y": {"datum": 98.49, "type": "quantitative", "axis": null}}}
        ],
        "resolve": {"axis": {"y": "independent"}}
      },
      {
        "width": 329, "height": 208,
        "data": {"name": "b"},
        "transform": [{"fold": ["CxHy","H2O","H2","CO","Ar","O2","CO2"], "as": ["s", "v"]}, {"filter": "datum.v != null"}],
        "encoding": {
          "x": {"field": "c", "type": "quantitative", "scale": {"domain": [0, 400], "nice": false, "zero": false},
            "axis": {"orient": "bottom", "title": "Cycle [numbers]", "titleFontSize": 14, "titlePadding": 11, "values": [0,50,100,150,200,250,300,350,400],
              "labelExpr": "datum.value % 100 == 0 ? datum.label : ''", "labelFontWeight": "bold", "labelPadding": 3, "labelFlush": false, "domainWidth": 2,
              "tickSize": {"condition": {"test": "datum.value % 100 == 0", "value": 5}, "value": 3}}},
          "color": {"field": "s", "type": "nominal", "legend": null,
            "scale": {"domain": ["He","CxHy","H2O","H2","CO","Ar","O2","CO2"], "range": ["#8f8f0f","#00ffff","#0000ff","#00ff00","#ff00ff","#000000","#ffff00","#ff0000"]}}
        },
        "layer": [
          {"mark": {"type": "line", "strokeWidth": 2.5, "clip": true},
           "encoding": {"y": {"field": "v", "type": "quantitative", "scale": {"type": "log", "domain": [0.0001, 0.001, 0.1, 1, 1.3], "range": [208, 167.3, 71.3, 7.3, 0], "nice": false},
             "axis": {"orient": "left", "values": [0.0001, 0.001, 0.1, 1], "labelExpr": "datum.value >= 1 ? '1' : datum.value >= 0.1 ? '0.1' : datum.value >= 0.001 ? '1E-3' : '1E-4'", "labelFontWeight": "bold", "tickSize": 4, "labelPadding": 2, "domainWidth": 2,
               "title": "Concentration [%]", "titleFontSize": 16, "titleY": 67, "titlePadding": 8}}}},
          {"mark": {"type": "line", "strokeWidth": 2.5, "opacity": 0, "clip": true},
           "encoding": {"y": {"field": "v", "type": "quantitative",
             "axis": {"orient": "right", "values": [0.0001, 0.001, 0.1, 1], "labelExpr": "datum.value >= 1 ? '1' : datum.value >= 0.1 ? '0.1' : datum.value >= 0.001 ? '1E-3' : '1E-4'", "labelFontWeight": "bold", "labelFontSize": 12.5, "tickSize": 4, "labelPadding": 1, "domainWidth": 2, "title": null}}}},
          {"data": {"name": "vlB"}, "mark": {"type": "rule", "strokeDash": [1.5, 1.5], "strokeWidth": 1},
           "encoding": {"color": {"value": "#000"}}}
        ],
        "resolve": {"axis": {"y": "independent"}}
      }
    ]
  }
]
}
